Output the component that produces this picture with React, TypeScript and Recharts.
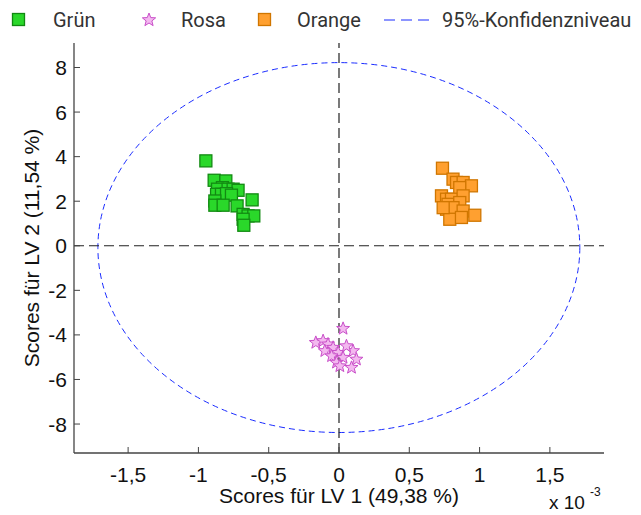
import React from 'react';
import {
  ScatterChart,
  Scatter,
  XAxis,
  YAxis,
  ReferenceLine,
  ReferenceArea,
} from 'recharts';

// scores (LV1 in 1e-3 units, LV2)
const gruenX = [-0.947, -0.888, -0.805, -0.829, -0.864, -0.789, -0.753, -0.718, -0.871, -0.836, -0.8, -0.765, -0.883, -0.883, -0.824, -0.725, -0.618, -0.682, -0.647, -0.606, -0.682, -0.677];
const gruenY = [3.81, 2.94, 2.91, 2.61, 2.54, 2.54, 2.54, 2.49, 2.31, 2.31, 2.34, 2.27, 2.01, 1.82, 1.82, 1.79, 2.06, 1.41, 1.34, 1.34, 1.19, 0.92];

const orangeX = [0.736, 0.811, 0.836, 0.883, 0.942, 0.859, 0.729, 0.765, 0.8, 0.883, 0.776, 0.859, 0.765, 0.811, 0.883, 0.788, 0.871, 0.966, 0.741];
const orangeY = [3.48, 2.99, 2.84, 2.84, 2.69, 2.61, 2.24, 2.09, 2.09, 2.24, 1.86, 1.94, 1.64, 1.71, 1.56, 1.19, 1.27, 1.37, 1.71];

const rosaX = [0.029, -0.165, -0.113, -0.078, -0.101, -0.042, -0.006, -0.053, 0.029, 0.1, 0.124, -0.018, 0.089, 0.006, 0.053];
const rosaY = [-3.72, -4.35, -4.27, -4.42, -4.72, -4.57, -4.8, -4.95, -5.02, -4.72, -5.1, -5.24, -5.47, -5.4, -4.5];

// 95% confidence ellipse bounds
const ellipseX = [-1.715, 1.713];
const ellipseY = [-8.38, 8.22];

const xTicks = [-1.5, -1, -0.5, 0, 0.5, 1, 1.5];
const yTicks = [-8, -6, -4, -2, 0, 2, 4, 6, 8];

const toPoints = (xs: number[], ys: number[]) => xs.map((x, i) => ({ x, y: ys[i] }));
const gruen = toPoints(gruenX, gruenY);
const orange = toPoints(orangeX, orangeY);
const rosa = toPoints(rosaX, rosaY);

const axisColor = '#444';
const font = '"Liberation Sans", Arial, sans-serif';
const fmt = (v: number) => String(v).replace('.', ',');

const starPath = (cx: number, cy: number, R: number, r: number) => {
  let d = '';
  for (let i = 0; i < 10; i++) {
    const rad = i % 2 === 0 ? R : r;
    const a = -Math.PI / 2 + (i * Math.PI) / 5;
    d += (i === 0 ? 'M' : 'L') + (cx + rad * Math.cos(a)).toFixed(2) + ',' + (cy + rad * Math.sin(a)).toFixed(2);
  }
  return d + 'Z';
};

const squareShape = (fill: string, stroke: string) => (p: any) => (
  <rect x={p.cx - 6} y={p.cy - 6} width={12} height={12} fill={fill} stroke={stroke} strokeWidth={1.3} />
);

const StarShape = (p: any) => (
  <path d={starPath(p.cx, p.cy, 6.8, 2.9)} fill="#f3b8ef" stroke="#c94fc9" strokeWidth={1} />
);

const BottomTick = ({ x, y, payload }: any) => (
  <g>
    <line x1={x} y1={y} x2={x} y2={y - 6} stroke={axisColor} />
    <text x={x} y={y + 29} textAnchor="middle" fontSize={21} fontFamily={font} fill="#111">
      {fmt(payload.value)}
    </text>
  </g>
);
const TopTick = ({ x, y }: any) => <line x1={x} y1={y} x2={x} y2={y + 6} stroke={axisColor} />;
const LeftTick = ({ x, y, payload }: any) => (
  <g>
    <line x1={x} y1={y} x2={x + 6} y2={y} stroke={axisColor} />
    <text x={x - 7} y={y + 7.5} textAnchor="end" fontSize={21} fontFamily={font} fill="#111">
      {fmt(payload.value)}
    </text>
  </g>
);
const RightTick = ({ x, y }: any) => <line x1={x} y1={y} x2={x - 6} y2={y} stroke={axisColor} />;

const EllipseShape = (p: any) => (
  <ellipse
    cx={p.x + p.width / 2}
    cy={p.y + p.height / 2}
    rx={Math.abs(p.width) / 2}
    ry={Math.abs(p.height) / 2}
    fill="none"
    stroke="#1a2cff"
    strokeWidth={1}
    strokeDasharray="6 4"
  />
);

const legendText: React.CSSProperties = {
  position: 'absolute',
  top: 8,
  fontFamily: 'Roboto, sans-serif',
  fontSize: 20,
  color: '#333',
  whiteSpace: 'nowrap',
};

const Legend = () => (
  <div style={{ position: 'absolute', left: 0, top: 0, width: 641, height: 40 }}>
    <svg width={641} height={40} style={{ position: 'absolute', left: 0, top: 0 }}>
      <rect x={12.5} y={13.5} width={12} height={12} fill="#2ad82a" stroke="#118811" strokeWidth={1.3} />
      <path d={starPath(149, 20, 7, 3)} fill="#f3b8ef" stroke="#c94fc9" strokeWidth={1} />
      <rect x={258.5} y={13.5} width={12} height={12} fill="#ffa030" stroke="#d07600" strokeWidth={1.3} />
      <line x1={384} y1={20} x2={431} y2={20} stroke="#1a2cff" strokeWidth={1.2} strokeDasharray="11 6" />
    </svg>
    <span style={{ ...legendText, left: 53 }}>Grün</span>
    <span style={{ ...legendText, left: 181 }}>Rosa</span>
    <span style={{ ...legendText, left: 297 }}>Orange</span>
    <span style={{ ...legendText, left: 442 }}>95%-Konfidenzniveau</span>
  </div>
);

export default function App() {
  return (
    <div style={{ position: 'absolute', left: 0, top: 0, width: 641, height: 515, background: '#fff', overflow: 'hidden' }}>
      <ScatterChart width={641} height={515} margin={{ top: 43, right: 37, left: 0, bottom: 0 }}>
        <XAxis
          xAxisId="b"
          type="number"
          dataKey="x"
          domain={[-1.885, 1.885]}
          ticks={xTicks}
          allowDataOverflow
          height={62}
          tickSize={0}
          tickMargin={0}
          tickLine={false}
          axisLine={{ stroke: axisColor, strokeWidth: 1.3 }}
          tick={<BottomTick />}
        />
        <XAxis
          xAxisId="t"
          orientation="top"
          type="number"
          dataKey="x"
          domain={[-1.885, 1.885]}
          ticks={xTicks}
          allowDataOverflow
          height={0}
          tickSize={0}
          tickMargin={0}
          tickLine={false}
          axisLine={{ stroke: axisColor, strokeWidth: 1.3 }}
          tick={<TopTick />}
        />
        <YAxis
          yAxisId="l"
          type="number"
          dataKey="y"
          domain={[-9.3, 9.1]}
          ticks={yTicks}
          allowDataOverflow
          width={74}
          tickSize={0}
          tickMargin={0}
          tickLine={false}
          axisLine={{ stroke: axisColor, strokeWidth: 1.3 }}
          tick={<LeftTick />}
        />
        <YAxis
          yAxisId="r"
          orientation="right"
          type="number"
          dataKey="y"
          domain={[-9.3, 9.1]}
          ticks={yTicks}
          allowDataOverflow
          width={0}
          tickSize={0}
          tickMargin={0}
          tickLine={false}
          axisLine={{ stroke: axisColor, strokeWidth: 1.3 }}
          tick={<RightTick />}
        />
        <ReferenceArea
          xAxisId="b"
          yAxisId="l"
          x1={ellipseX[0]}
          x2={ellipseX[1]}
          y1={ellipseY[0]}
          y2={ellipseY[1]}
          shape={EllipseShape}
        />
        <ReferenceLine xAxisId="b" yAxisId="l" x={0} stroke="#222" strokeWidth={1.2} strokeDasharray="10 5" />
        <ReferenceLine xAxisId="b" yAxisId="l" y={0} stroke="#222" strokeWidth={1.2} strokeDasharray="10 5" />
        <Scatter xAxisId="b" yAxisId="l" name="Grün" data={gruen} shape={squareShape('#2ad82a', '#128a12')} isAnimationActive={false} />
        <Scatter xAxisId="b" yAxisId="l" name="Orange" data={orange} shape={squareShape('#ffa030', '#d07600')} isAnimationActive={false} />
        <Scatter xAxisId="b" yAxisId="l" name="Rosa" data={rosa} shape={StarShape} isAnimationActive={false} />
      </ScatterChart>
      <Legend />
      <svg width={641} height={515} style={{ position: 'absolute', left: 0, top: 0, pointerEvents: 'none' }}>
        <text x={339} y={503} textAnchor="middle" fontSize={21} fontFamily={font} fill="#111">
          Scores für LV 1 (49,38 %)
        </text>
        <text
          x={0}
          y={0}
          transform="translate(39 248) rotate(-90)"
          textAnchor="middle"
          fontSize={21}
          fontFamily={font}
          fill="#111"
        >
          Scores für LV 2 (11,54 %)
        </text>
        <text x={549} y={509} fontSize={19} fontFamily={font} fill="#111">
          x 10
        </text>
        <text x={590} y={496} fontSize={12} fontFamily={font} fill="#111">
          -3
        </text>
      </svg>
    </div>
  );
}
